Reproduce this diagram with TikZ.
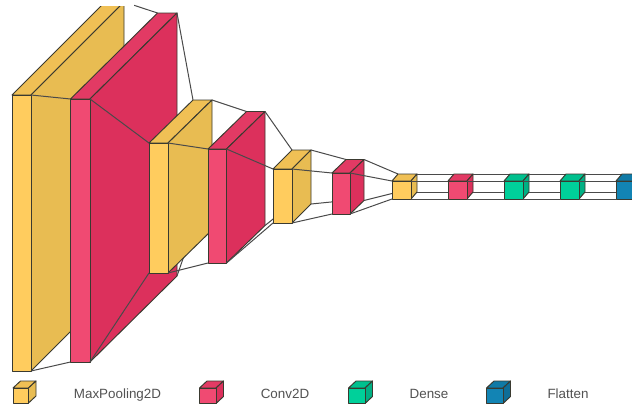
\documentclass[tikz,border=0pt]{standalone}
\usepackage{fontspec}
\setmainfont{Liberation Sans}
\definecolor{yf}{HTML}{FFCC5E}\definecolor{yr}{HTML}{E8BC52}\definecolor{yt}{HTML}{F0C055}
\definecolor{rf}{HTML}{F04A72}\definecolor{rr}{HTML}{DC305C}\definecolor{rt}{HTML}{E23A64}
\definecolor{gf}{HTML}{00D09A}\definecolor{gr}{HTML}{00B084}\definecolor{gt}{HTML}{00C08E}
\definecolor{bf}{HTML}{1284B4}\definecolor{br}{HTML}{0E6E98}\definecolor{bt}{HTML}{107AA6}
\definecolor{edgeink}{HTML}{3A3A30}
\definecolor{linkink}{HTML}{4A4A4A}
\tikzset{
  faceline/.style={draw=edgeink,line width=0.95pt,line join=round},
  linkline/.style={draw=linkink,line width=1pt},
  legendtext/.style={text=black!68,font=\fontsize{13.4}{15}\selectfont,inner sep=0pt,anchor=base}
}
% name, x left, y top, y bottom, width, dx, dy
\newcommand{\layercoords}[7]{%
  \coordinate (#1-ftl) at (#2,#3);
  \coordinate (#1-ftr) at ({#2+#5},#3);
  \coordinate (#1-fbl) at (#2,#4);
  \coordinate (#1-fbr) at ({#2+#5},#4);
  \coordinate (#1-btl) at ({#2+#6},{#3-#7});
  \coordinate (#1-btr) at ({#2+#5+#6},{#3-#7});
  \coordinate (#1-bbl) at ({#2+#6},{#4-#7});
  \coordinate (#1-bbr) at ({#2+#5+#6},{#4-#7});
}
% name, colour prefix
\newcommand{\layerfaces}[2]{%
  \path[faceline,fill=#2t] (#1-ftl) -- (#1-ftr) -- (#1-btr) -- (#1-btl) -- cycle;
  \path[faceline,fill=#2r] (#1-ftr) -- (#1-btr) -- (#1-bbr) -- (#1-fbr) -- cycle;
  \path[faceline,fill=#2f] (#1-ftl) -- (#1-ftr) -- (#1-fbr) -- (#1-fbl) -- cycle;
}
\newcommand{\linkboxes}[2]{%
  \draw[linkline] (#1-ftr) -- (#2-ftl);
  \draw[linkline] (#1-btr) -- (#2-btl);
  \draw[linkline] (#1-fbr) -- (#2-fbl);
  \draw[linkline] (#1-bbr) -- (#2-bbl);
}
\begin{document}
\begin{tikzpicture}[x=1pt,y=-1pt]
\useasboundingbox (0,0) rectangle (632,407);
\fill[white] (0,0) rectangle (632,407);
\layercoords{a}{12}{95}{371}{19}{93}{93}
\layercoords{b}{70.5}{99}{362}{19.5}{87}{86}
\layercoords{c}{149}{143}{273}{19}{44}{43}
\layercoords{d}{208}{149}{263}{18.5}{38.5}{37.5}
\layercoords{e}{273}{169}{223}{19}{19}{19}
\layercoords{f}{332}{173}{214}{18}{14}{13.5}
\layercoords{g}{392}{181}{199}{19}{6}{7}
\layercoords{h}{448}{181}{199}{19}{6}{7}
\layercoords{i}{504}{181}{199}{19}{6}{7}
\layercoords{j}{560}{181}{199}{19}{6}{7}
\layercoords{k}{616}{181}{199}{19}{6}{7}
\begin{scope}
\clip (0,6.5) rectangle (135,407);
\layerfaces{a}{y}
\end{scope}
\begin{scope}
\clip (134,0) rectangle (632,407) (0,6.5) rectangle (134,407);
\linkboxes{a}{b}
\end{scope}
\layerfaces{b}{r}
\linkboxes{b}{c}
\layerfaces{c}{y}
\linkboxes{c}{d}
\layerfaces{d}{r}
\linkboxes{d}{e}
\layerfaces{e}{y}
\linkboxes{e}{f}
\layerfaces{f}{r}
\linkboxes{f}{g}
\layerfaces{g}{y}
\linkboxes{g}{h}
\layerfaces{h}{r}
\linkboxes{h}{i}
\layerfaces{i}{g}
\linkboxes{i}{j}
\layerfaces{j}{g}
\linkboxes{j}{k}
\begin{scope}
\clip (0,0) rectangle (632,407);
\layerfaces{k}{b}
\end{scope}
% legend
\layercoords{la}{13}{388}{403}{15.5}{7.5}{7}
\layercoords{lb}{199.5}{388}{403.5}{16.5}{7.5}{7}
\layercoords{lc}{348.5}{388}{403.5}{16.5}{7.5}{7}
\layercoords{ld}{486.5}{388}{403.5}{16.5}{7.5}{7}
\layerfaces{la}{y}
\layerfaces{lb}{r}
\layerfaces{lc}{g}
\layerfaces{ld}{b}
\node[legendtext] (ta) at (117.5,398) {MaxPooling2D};
\node[legendtext] (tb) at (285,398) {Conv2D};
\node[legendtext] (tc) at (429,398) {Dense};
\node[legendtext] (td) at (568,398) {Flatten};
\end{tikzpicture}
\end{document}
